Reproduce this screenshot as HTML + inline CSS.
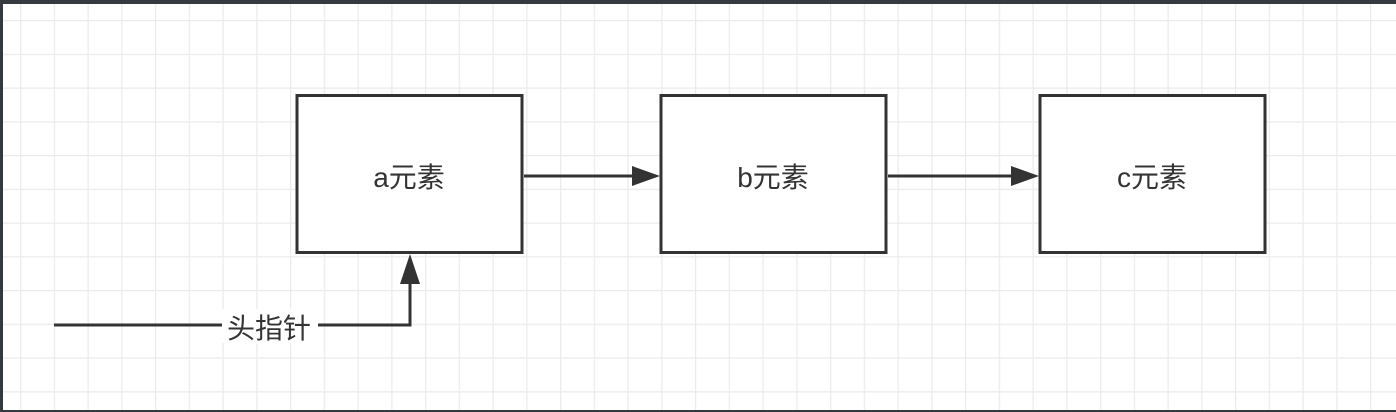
<!DOCTYPE html>
<html><head><meta charset="utf-8"><style>
html,body{margin:0;padding:0;width:1396px;height:412px;overflow:hidden;background:#343a40;}
svg{display:block}
</style></head><body>
<svg width="1396" height="412" xmlns="http://www.w3.org/2000/svg">
<rect x="0" y="0" width="1396" height="412" fill="#343a40"/>
<rect x="3" y="4" width="1393" height="406" fill="#ffffff"/>
<defs>
<pattern id="g" x="20" y="20" width="33.75" height="33.75" patternUnits="userSpaceOnUse">
<path d="M0 0H33.75M0 0V33.75" stroke="#ebebeb" stroke-width="2.5" fill="none"/>
</pattern>
</defs>
<rect x="3" y="4" width="1393" height="406" fill="url(#g)"/>
<g stroke="#333" stroke-width="3" fill="#fff">
<rect x="297" y="95.5" width="225" height="157"/>
<rect x="661" y="95.5" width="225" height="157"/>
<rect x="1040" y="95.5" width="225" height="157"/>
</g>
<g stroke="#333" stroke-width="3" fill="none">
<path d="M524 176H634"/>
<path d="M888 176H1012"/>
<path d="M54 325H410V282"/>
</g>
<g fill="#333">
<path d="M660 176L632 166L632 186Z"/>
<path d="M1039 176L1011 166L1011 186Z"/>
<path d="M410 254L400 284L420 284Z"/>
</g>
<rect x="222" y="309" width="96" height="34" fill="#fff"/>
<g font-family="Liberation Sans, Noto Sans CJK SC, sans-serif" font-size="28" fill="#333" text-anchor="middle">
<text x="409" y="187">a元素</text>
<text x="773" y="187">b元素</text>
<text x="1152" y="187">c元素</text>
<text x="269" y="338">头指针</text>
</g>
</svg>
</body></html>
